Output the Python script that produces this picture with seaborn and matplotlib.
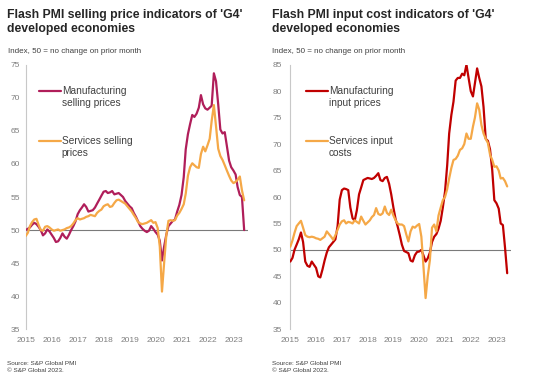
import numpy as np
import pandas as pd
import matplotlib
matplotlib.use("Agg")
import matplotlib.pyplot as plt
import matplotlib.dates as mdates
from matplotlib.lines import Line2D
import seaborn as sns

# ---------------- data (monthly, Jan 2015 - Jun 2023) ----------------
months = pd.date_range("2015-01-01", periods=102, freq="MS")

mfg_selling = [
    50.0, 50.2, 50.4, 50.8, 51.1, 50.9, 50.5, 50.0, 49.2, 49.5, 50.1, 49.8,
    49.3, 48.8, 48.2, 48.3, 48.8, 49.5, 49.0, 48.7, 49.3, 50.0, 50.6, 51.3,
    52.4, 53.0, 53.4, 53.9, 53.5, 52.8, 52.9, 53.0, 53.4, 54.0, 54.6, 55.2,
    55.8, 55.9, 55.6, 55.7, 55.9, 55.4, 55.5, 55.6, 55.3, 55.0, 54.4, 54.0,
    53.6, 53.3, 52.6, 52.0, 51.3, 50.6, 50.2, 49.9, 49.7, 49.9, 50.6, 50.2,
    49.7, 49.3, 48.4, 45.4, 47.5, 49.3, 50.6, 51.0, 51.4, 51.6, 52.8, 53.8,
    55.3, 58.0, 62.2, 64.5, 66.0, 67.4, 67.1, 67.6, 68.5, 70.4, 69.0, 68.4,
    68.2, 68.5, 68.8, 73.7, 72.5, 69.0, 65.2, 64.6, 64.8, 62.7, 60.5, 59.5,
    59.0, 58.4, 56.5, 55.3, 55.0, 50.0,
]
svc_selling = [
    49.1, 49.6, 50.6, 51.2, 51.6, 51.7, 50.8, 50.0, 49.9, 50.5, 50.6, 50.4,
    50.1, 49.9, 50.0, 50.1, 49.9, 50.0, 50.1, 50.3, 50.4, 50.6, 51.0, 51.5,
    51.8, 51.6, 51.7, 51.8, 52.0, 52.1, 52.3, 52.2, 52.1, 52.6, 52.9, 53.1,
    53.6, 53.8, 53.9, 53.5, 53.6, 54.1, 54.5, 54.6, 54.4, 54.2, 54.0, 53.6,
    53.2, 52.8, 52.3, 51.8, 51.2, 51.0, 50.9, 51.0, 51.1, 51.3, 51.5, 51.1,
    51.2, 50.3, 47.5, 40.7, 45.0, 49.2, 51.4, 51.5, 51.4, 51.5, 52.2, 52.6,
    53.2, 53.9, 55.5, 58.2, 59.5, 60.1, 59.8, 59.5, 59.4, 61.5, 62.6, 61.9,
    62.8, 63.8, 66.5, 68.9, 65.7, 62.3, 61.2, 60.6, 59.8, 59.0, 58.2, 57.5,
    57.1, 57.3, 57.6, 58.1, 56.0, 54.5,
]
mfg_input = [
    47.8, 48.5, 50.0, 51.0, 52.0, 53.3, 51.5, 47.8, 47.0, 46.8, 47.8, 47.2,
    46.6, 45.0, 44.8, 46.3, 48.0, 49.5, 50.5, 51.0, 51.5, 52.0, 54.5, 59.5,
    61.3, 61.6, 61.5, 61.3, 58.0, 56.0, 55.5, 57.5, 60.5, 61.8, 63.2, 63.4,
    63.6, 63.5, 63.4, 63.6, 64.0, 64.5, 63.2, 63.0, 63.6, 63.8, 62.5, 60.5,
    58.0, 55.8, 54.5, 52.8, 51.0, 49.8, 49.6, 49.4, 48.0, 47.8, 49.0, 49.6,
    49.7, 50.0, 49.0, 47.8, 48.4, 49.5, 51.5, 52.5, 53.0, 54.0, 55.5, 58.0,
    61.0, 66.0, 72.0, 75.5, 78.0, 82.0, 82.5, 82.5, 83.3, 83.0, 85.0, 82.5,
    80.0, 79.0, 81.5, 84.3, 82.5, 80.9, 77.0, 71.0, 70.6, 69.0, 65.1, 59.4,
    58.8, 57.8, 55.0, 54.7, 50.5, 45.6,
]
svc_input = [
    50.6, 51.8, 53.2, 54.5, 55.0, 55.5, 54.2, 52.8, 52.5, 52.4, 52.5, 52.4,
    52.2, 52.1, 51.9, 52.2, 52.5, 53.5, 53.0, 52.5, 51.9, 52.8, 53.8, 54.8,
    55.4, 55.6, 55.0, 55.3, 55.2, 55.0, 55.6, 55.3, 55.0, 56.3, 55.5, 54.8,
    55.2, 55.6, 56.2, 56.6, 57.9, 56.8, 56.6, 56.9, 58.2, 57.0, 56.6, 57.6,
    56.5, 55.6, 55.0, 54.8, 54.8, 54.5, 53.0, 51.6, 53.5, 54.4, 54.2, 54.6,
    54.9, 52.5, 47.0, 40.9, 45.0, 48.1, 54.2, 54.8, 53.5, 56.5, 58.0, 59.4,
    60.0, 61.5, 63.5, 65.5, 67.0, 67.2, 67.8, 68.9, 69.2, 70.0, 72.0, 71.0,
    71.0, 73.3, 75.0, 77.7, 76.5, 73.6, 72.0, 71.0, 70.2, 68.0, 67.0, 65.7,
    65.8, 65.0, 63.5, 63.6, 63.0, 62.0,
]

left_series = ["Manufacturing\nselling prices", "Services selling\nprices"]
right_series = ["Manufacturing\ninput prices", "Services input\ncosts"]
left_colors = ["#B01E5A", "#F5A847"]
right_colors = ["#C00000", "#F5A847"]
left_yticks = list(range(35, 80, 5))
right_yticks = list(range(35, 90, 5))
year_ticks = list(range(2015, 2024))

titles = ["Flash PMI selling price indicators of 'G4'\ndeveloped economies",
          "Flash PMI input cost indicators of 'G4'\ndeveloped economies"]
subtitle = "Index, 50 = no change on prior month"
source = "Source: S&P Global PMI\n\u00a9 S&P Global 2023."

# ---------------- style ----------------
sns.set_theme(style="white")
plt.rcParams["font.family"] = ["Liberation Sans", "DejaVu Sans"]

W, H = 538, 383
fig = plt.figure(figsize=(W / 100, H / 100), dpi=100)


def fx(x):
    return x / W


def fy(y):
    return 1 - y / H


ax_top, ax_bot = 64.7, 329.3
axL = fig.add_axes([fx(25.7), fy(ax_bot), fx(247.5 - 25.7), (ax_bot - ax_top) / H])
axR = fig.add_axes([fx(290.3), fy(ax_bot), fx(510.5 - 290.3), (ax_bot - ax_top) / H])

panels = [
    (axL, left_series, left_colors, mfg_selling, svc_selling, (35, 75), left_yticks, 5.8),
    (axR, right_series, right_colors, mfg_input, svc_input, (35, 85), right_yticks, 7.2),
]

text_col = "#404040"
tick_col = "#7f7f7f"

for ax, names, cols, m_vals, s_vals, ylim, yticks, ypad in panels:
    df = pd.DataFrame({
        "date": list(months) * 2,
        "value": list(m_vals) + list(s_vals),
        "series": [names[0]] * len(months) + [names[1]] * len(months),
    })
    ax.axhline(50, color="#7a7a7a", lw=0.8, zorder=1)
    sns.lineplot(data=df, x="date", y="value", hue="series", hue_order=names,
                 palette=cols, lw=1.6, legend=False, ax=ax, zorder=3)
    ax.set_ylim(*ylim)
    ax.set_xlim(pd.Timestamp("2015-01-01"), pd.Timestamp("2023-07-18"))
    ax.set_yticks(yticks)
    ax.set_xticks([pd.Timestamp(f"{y}-01-01") for y in year_ticks])
    ax.xaxis.set_major_formatter(mdates.DateFormatter("%Y"))
    ax.set_xlabel("")
    ax.set_ylabel("")
    for s in ["top", "right", "bottom"]:
        ax.spines[s].set_visible(False)
    ax.spines["left"].set_color("#c8c8c8")
    ax.spines["left"].set_linewidth(0.8)
    ax.tick_params(axis="both", length=0, colors=tick_col, labelsize=6)
    ax.tick_params(axis="y", pad=ypad - 1.5)
    ax.tick_params(axis="x", pad=5.5)
    ax.patch.set_alpha(0)

    # legend keys (label lines next to the key)
    for i, (name, c) in enumerate(zip(names, cols)):
        yk = [91, 141][i]
        y_ax = (ax_bot - yk) / (ax_bot - ax_top)
        pos = ax.get_position()
        x0 = 13.6 / (pos.width * W) if ax is axL else 16.0 / (pos.width * W)
        x1 = 35.3 / (pos.width * W) if ax is axL else 37.7 / (pos.width * W)
        ax.add_line(Line2D([x0, x1], [y_ax, y_ax], transform=ax.transAxes,
                           color=c, lw=1.6, clip_on=False))
        l1, l2 = name.split("\n")
        ax.text(x1 + 0.004, y_ax, l1, transform=ax.transAxes, ha="left",
                va="center", fontsize=7.3, color=text_col)
        ax.text(x1 + 0.004, y_ax - 11.7 / (ax_bot - ax_top), l2,
                transform=ax.transAxes, ha="left", va="center",
                fontsize=7.3, color=text_col)

# titles, subtitles, sources
for x0, t in zip([7.3, 271.5], titles):
    l1, l2 = t.split("\n")
    fig.text(fx(x0), fy(18.3), l1, fontsize=8.8, fontweight="bold",
             color="#262626", va="baseline", ha="left")
    fig.text(fx(x0), fy(31.7), l2, fontsize=8.8, fontweight="bold",
             color="#262626", va="baseline", ha="left")
    fig.text(fx(x0 + 0.4), fy(52.7), subtitle, fontsize=5.8, color=text_col,
             va="baseline", ha="left")
    s1, s2 = source.split("\n")
    fig.text(fx(x0), fy(365.0), s1, fontsize=4.6, color=text_col,
             va="baseline", ha="left")
    fig.text(fx(x0), fy(372.4), s2, fontsize=4.6, color=text_col,
             va="baseline", ha="left")

fig.savefig("out.png", dpi=100, facecolor="white")
